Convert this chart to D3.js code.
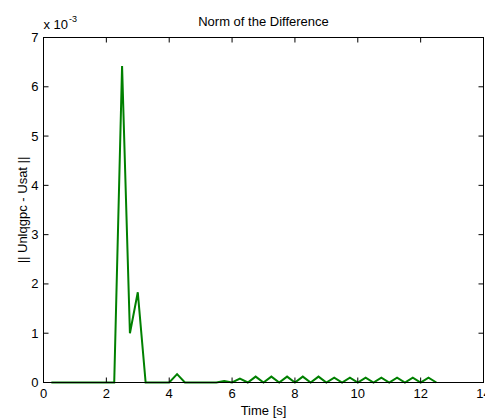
<!DOCTYPE html>
<html lang="en">
<head>
    <meta charset="utf-8"/>
    <script src="https://d3js.org/d3.v7.min.js"></script>
    <title>Norm of the Difference</title>
    <style>
        body { margin: 0; background: #fff; }
        svg { font-family: "Liberation Sans", Arial, sans-serif; }
    </style>
</head>
<body>
<svg id="chart" width="485" height="419"></svg>
<script>
    // time samples [s] and norm values (x 10^-3)
    const times = [0.25, 0.5, 0.75, 1.0, 1.25, 1.5, 1.75, 2.0, 2.25, 2.5, 2.75, 3.0, 3.25, 3.5, 3.75, 4.0,
        4.25, 4.5, 4.75, 5.0, 5.25, 5.5, 5.75, 6.0, 6.25, 6.5, 6.75, 7.0, 7.25, 7.5, 7.75, 8.0, 8.25, 8.5,
        8.75, 9.0, 9.25, 9.5, 9.75, 10.0, 10.25, 10.5, 10.75, 11.0, 11.25, 11.5, 11.75, 12.0, 12.25, 12.5];
    const normValues = [0, 0, 0, 0, 0, 0, 0, 0, 0, 6.42, 1.0, 1.83, 0, 0, 0, 0,
        0.17, 0, 0, 0, 0, 0, 0.03, 0, 0.08, 0, 0.12, 0, 0.12, 0, 0.12, 0, 0.12, 0,
        0.12, 0, 0.1, 0, 0.1, 0, 0.1, 0, 0.1, 0, 0.1, 0, 0.1, 0, 0.1, 0];
    const xTicks = [0, 2, 4, 6, 8, 10, 12, 14];
    const yTicks = [0, 1, 2, 3, 4, 5, 6, 7];

    const svg = d3.select("#chart");
    const mLeft = 43.5, mRight = 483.5, mTop = 37.5, mBottom = 382.5;

    const x = d3.scaleLinear().domain([0, 14]).range([mLeft, mRight]);
    const y = d3.scaleLinear().domain([0, 7]).range([mBottom, mTop]);

    const data = times.map((t, i) => ({t: t, v: normValues[i]}));

    // data line
    svg.append("path")
        .datum(data)
        .attr("fill", "none")
        .attr("stroke", "#008000")
        .attr("stroke-width", 2)
        .attr("stroke-linejoin", "miter")
        .attr("d", d3.line().x(d => x(d.t)).y(d => y(d.v)));

    // box
    svg.append("rect")
        .attr("x", mLeft).attr("y", mTop)
        .attr("width", mRight - mLeft).attr("height", mBottom - mTop)
        .attr("fill", "none").attr("stroke", "#000").attr("stroke-width", 1);

    const tickLen = 5;
    const axisFont = 13;

    // x ticks (bottom and top, inward)
    const gx = svg.append("g");
    xTicks.forEach(t => {
        gx.append("line").attr("x1", x(t)).attr("x2", x(t))
            .attr("y1", mBottom).attr("y2", mBottom - tickLen).attr("stroke", "#000");
        gx.append("line").attr("x1", x(t)).attr("x2", x(t))
            .attr("y1", mTop).attr("y2", mTop + tickLen).attr("stroke", "#000");
        gx.append("text").attr("x", x(t)).attr("y", mBottom + 15.5)
            .attr("text-anchor", "middle").attr("font-size", axisFont).text(t);
    });

    // y ticks (left and right, inward)
    const gy = svg.append("g");
    yTicks.forEach(t => {
        gy.append("line").attr("x1", mLeft).attr("x2", mLeft + tickLen)
            .attr("y1", y(t)).attr("y2", y(t)).attr("stroke", "#000");
        gy.append("line").attr("x1", mRight).attr("x2", mRight - tickLen)
            .attr("y1", y(t)).attr("y2", y(t)).attr("stroke", "#000");
        gy.append("text").attr("x", mLeft - 5).attr("y", y(t) + 4.5)
            .attr("text-anchor", "end").attr("font-size", axisFont).text(t);
    });

    // exponent label
    const ex = svg.append("text").attr("x", mLeft).attr("y", 29).attr("font-size", axisFont);
    ex.append("tspan").text("x 10");
    ex.append("tspan").attr("dy", -7).attr("dx", 1).attr("font-size", 9).text("-3");

    // title
    svg.append("text").attr("x", (mLeft + mRight) / 2).attr("y", 26)
        .attr("text-anchor", "middle").attr("font-size", axisFont)
        .text("Norm of the Difference");

    // x label
    svg.append("text").attr("x", (mLeft + mRight) / 2).attr("y", 415)
        .attr("text-anchor", "middle").attr("font-size", axisFont)
        .text("Time [s]");

    // y label
    svg.append("text")
        .attr("transform", `translate(27,${(mTop + mBottom) / 2}) rotate(-90)`)
        .attr("text-anchor", "middle").attr("font-size", axisFont)
        .text("|| Unlqgpc - Usat ||");
</script>
</body>
</html>
